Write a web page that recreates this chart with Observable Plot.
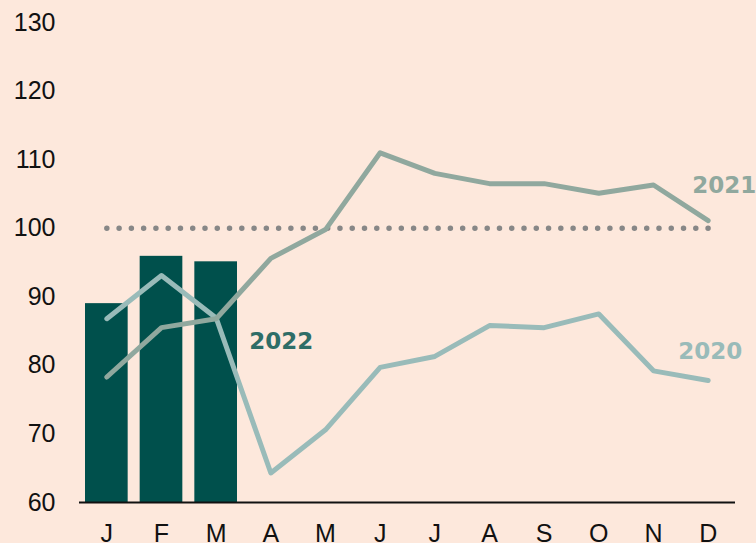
<!DOCTYPE html>
<html>
<head>
<meta charset="utf-8">
<script src="https://cdn.jsdelivr.net/npm/d3@7"></script>
<script src="https://cdn.jsdelivr.net/npm/@observablehq/plot@0.6"></script>
<style>
  html, body { margin: 0; padding: 0; background: #fde8dc; }
  #chart svg { display: block; }
</style>
</head>
<body>
<div id="chart"></div>
<script>
const months = ["Jan","Feb","Mar","Apr","May","Jun","Jul","Aug","Sep","Oct","Nov","Dec"];
const monthLetters = ["J","F","M","A","M","J","J","A","S","O","N","D"];
const yTicks = [60, 70, 80, 90, 100, 110, 120, 130];

const values2022 = [89.0, 95.9, 95.1];
const values2021 = [78.3, 85.5, 86.8, 95.6, 99.8, 111.0, 108.0, 106.5, 106.5, 105.1, 106.3, 101.1];
const values2020 = [86.8, 93.1, 86.9, 64.3, 70.6, 79.7, 81.3, 85.8, 85.5, 87.5, 79.2, 77.8];
const reference = 100;

const bars = values2022.map((v, i) => ({month: months[i], value: v}));
const s2021 = values2021.map((v, i) => ({month: months[i], value: v}));
const s2020 = values2020.map((v, i) => ({month: months[i], value: v}));
const refLine = [{month: months[0], value: reference}, {month: months[11], value: reference}];

const tickFont = "Liberation Sans, Arial, sans-serif";
const labelFont = "DejaVu Sans, Verdana, sans-serif";

const chart = Plot.plot({
  width: 756,
  height: 543,
  marginLeft: 79,
  marginRight: 21,
  marginTop: 22,
  marginBottom: 41,
  style: {background: "#fde8dc", fontFamily: tickFont, fontSize: "25px", color: "#111"},
  x: {type: "band", domain: months, padding: 0, round: false, label: null, tickSize: 0, tickPadding: 22,
      tickFormat: (d) => monthLetters[months.indexOf(d)]},
  y: {domain: [60, 130], ticks: yTicks, label: null, tickSize: 0, tickPadding: 24},
  marks: [
    Plot.barY(bars, {x: "month", y1: 60, y2: "value", fill: "#00504c", insetLeft: 6, insetRight: 6}),
    Plot.ruleY([60], {stroke: "#111", strokeWidth: 1.8}),
    Plot.line(refLine, {x: "month", y: "value", stroke: "#878787", strokeWidth: 5.5,
      strokeDasharray: "0,12.27", strokeLinecap: "round"}),
    Plot.line(s2020, {x: "month", y: "value", stroke: "#99bbb9", strokeWidth: 5,
      strokeLinecap: "round", strokeLinejoin: "round"}),
    Plot.line(s2021, {x: "month", y: "value", stroke: "#90a89e", strokeWidth: 5,
      strokeLinecap: "round", strokeLinejoin: "round"}),
    Plot.text([s2021[11]], {x: "month", y: "value", text: () => "2021", dx: 16, dy: -35,
      fill: "#90a89e", fontFamily: labelFont, fontWeight: "bold", fontSize: 23}),
    Plot.text([s2020[11]], {x: "month", y: "value", text: () => "2020", dx: 2, dy: -29,
      fill: "#99bbb9", fontFamily: labelFont, fontWeight: "bold", fontSize: 23}),
    Plot.text([bars[2]], {x: "month", y: "value", text: () => "2022", dx: 65, dy: 80,
      fill: "#2e6d67", fontFamily: labelFont, fontWeight: "bold", fontSize: 23})
  ]
});
document.getElementById("chart").appendChild(chart);
</script>
</body>
</html>
